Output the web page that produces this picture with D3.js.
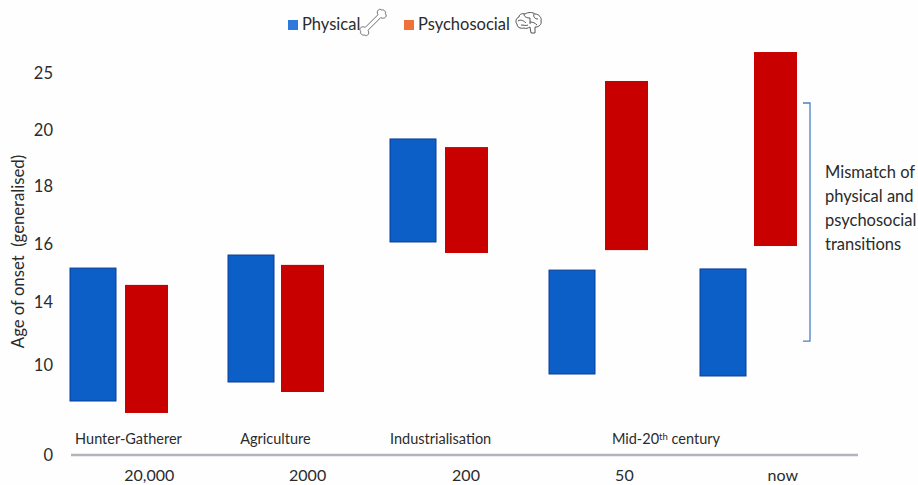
<!DOCTYPE html>
<html>
<head>
<meta charset="utf-8">
<script src="https://cdn.jsdelivr.net/npm/d3@7"></script>
<style>
  html, body { margin: 0; padding: 0; background: #fefefe; }
  text { font-family: Lato, sans-serif; fill: #2b2b2b; }
</style>
</head>
<body>
<div id="chart"></div>
<script>
const times = ['20,000', '2000', '200', '50', 'now'];
const physicalTop = [15.17, 15.62, 19.68, 15.10, 15.14];
const physicalBottom = [6.0, 8.11, 16.07, 9.0, 8.78];
const psychosocialTop = [14.59, 15.28, 19.39, 24.3, 26.84];
const psychosocialBottom = [4.67, 7.0, 15.69, 15.79, 15.93];
const yTicks = [0, 10, 14, 16, 18, 20, 25];
const eras = ['Hunter-Gatherer', 'Agriculture', 'Industrialisation', 'Mid-20th century'];
const eraSlots = [0.06, 0.99, 2.01, 3.45];
const mismatchRange = [22.37, 11.52];
const mismatchLines = ['Mismatch of', 'physical and', 'psychosocial', 'transitions'];

const width = 918;
const height = 485;

const svg = d3.select('#chart')
    .append('svg')
    .attr('width', width)
    .attr('height', height)
    .style('display', 'block');

// the axis in the picture is not linear, so the scale is piecewise
const y = d3.scaleLinear()
    .domain(yTicks)
    .range([455, 365, 302, 244, 186, 130, 73]);

const x = d3.scaleBand()
    .domain(times)
    .range([70, 862]);

// groups of bars are not centred on the labels below them
const groupX = d3.scaleLinear()
    .domain([0, 1, 2, 3, 4])
    .range([119, 277, 439, 598, 749]);
const physicalX = d3.scaleOrdinal()
    .domain([0, 1, 2, 3, 4])
    .range([70, 228, 390, 549, 700]);
const psychosocialX = d3.scaleOrdinal()
    .domain([0, 1, 2, 3, 4])
    .range([125, 281, 445, 605, 754]);

const rows = times.map((t, i) => ({
    i,
    physical: [physicalTop[i], physicalBottom[i]],
    psychosocial: [psychosocialTop[i], psychosocialBottom[i]]
}));

// y axis
const yAxis = svg.append('g')
    .attr('transform', 'translate(53, 0)')
    .call(d3.axisLeft(y).tickValues(yTicks).tickSize(0).tickPadding(0));
yAxis.select('.domain').remove();
yAxis.selectAll('text')
    .attr('text-anchor', 'end')
    .style('font-family', 'Lato, sans-serif')
    .style('font-size', '16.5px')
    .attr('fill', '#2b2b2b');

svg.append('text')
    .attr('transform', 'translate(24, 251.5) rotate(-90)')
    .attr('text-anchor', 'middle')
    .style('font-size', '16.7px')
    .style('white-space', 'pre')
    .text('Age of onset  (generalised)');

// x axis, the line stops a little before the last band ends
const xAxis = svg.append('g')
    .attr('transform', 'translate(0, 455)')
    .call(d3.axisBottom(x).tickSize(0).tickPadding(15));
xAxis.select('.domain').remove();
xAxis.append('line')
    .attr('x1', 71)
    .attr('x2', 858)
    .attr('stroke', '#b4b4bc')
    .attr('stroke-width', 2.5);
xAxis.selectAll('text')
    .style('font-family', 'Lato, sans-serif')
    .style('font-size', '16px')
    .attr('fill', '#2b2b2b');

// bars
svg.selectAll('.physical')
    .data(rows)
    .enter().append('rect')
    .attr('class', 'physical')
    .attr('x', d => physicalX(d.i))
    .attr('y', d => y(d.physical[0]))
    .attr('width', 46)
    .attr('height', d => y(d.physical[1]) - y(d.physical[0]))
    .attr('fill', '#0b5fc6')
    .attr('stroke', '#0d3c96')
    .attr('stroke-width', 1);

svg.selectAll('.psychosocial')
    .data(rows)
    .enter().append('rect')
    .attr('class', 'psychosocial')
    .attr('x', d => psychosocialX(d.i))
    .attr('y', d => y(d.psychosocial[0]))
    .attr('width', 43)
    .attr('height', d => y(d.psychosocial[1]) - y(d.psychosocial[0]))
    .attr('fill', '#c90000');

// era labels
const eraText = svg.selectAll('.era')
    .data(eras)
    .enter().append('text')
    .attr('class', 'era')
    .attr('x', (d, i) => groupX(eraSlots[i]))
    .attr('y', 444)
    .attr('text-anchor', 'middle')
    .style('font-size', '14.5px');
eraText.filter(d => !d.includes('20th')).text(d => d);
const mid = eraText.filter(d => d.includes('20th'));
mid.append('tspan').text('Mid-20');
mid.append('tspan').attr('dy', -4).style('font-size', '9.5px').text('th');
mid.append('tspan').attr('dy', 4).text(' century');

// mismatch bracket
const bx = 803;
svg.append('path')
    .attr('d', d3.line()([
        [bx, y(mismatchRange[0])],
        [bx + 7, y(mismatchRange[0])],
        [bx + 7, y(mismatchRange[1])],
        [bx, y(mismatchRange[1])]
    ]))
    .attr('fill', 'none')
    .attr('stroke', '#4a7fc4')
    .attr('stroke-width', 1.3);

svg.selectAll('.mismatch')
    .data(mismatchLines)
    .enter().append('text')
    .attr('class', 'mismatch')
    .attr('x', 825)
    .attr('y', (d, i) => 178 + i * 24)
    .style('font-size', '16.5px')
    .text(d => d);

// legend
const legend = svg.append('g').attr('class', 'legend');
legend.append('rect').attr('x', 288).attr('y', 20).attr('width', 10).attr('height', 10).attr('fill', '#2f78dc');
legend.append('text').attr('x', 302).attr('y', 30).style('font-size', '16.5px').text('Physical');
legend.append('rect').attr('x', 404).attr('y', 20).attr('width', 10).attr('height', 10).attr('fill', '#f0703a');
legend.append('text').attr('x', 418).attr('y', 30).style('font-size', '16.5px').text('Psychosocial');

// bone icon
legend.append('path')
    .attr('transform', 'translate(373, 22.5) rotate(-45)')
    .attr('d', 'M-9,-2 L9,-2 C10,-6 15,-6 15,-2.5 C17,-2 17,2 15,2.5 C15,6 10,6 9,2 L-9,2 C-10,6 -15,6 -15,2.5 C-17,2 -17,-2 -15,-2.5 C-15,-6 -10,-6 -9,-2 Z')
    .attr('fill', '#fff')
    .attr('stroke', '#666')
    .attr('stroke-width', 0.9);

// brain icon
const brain = legend.append('g')
    .attr('transform', 'translate(529, 22)')
    .attr('fill', 'none')
    .attr('stroke', '#555')
    .attr('stroke-width', 1);
brain.append('path').attr('d', 'M-5,6 C-9,7 -12,5 -12,2 C-14,0 -13,-4 -10,-5 C-10,-8 -6,-9 -4,-8 C-1,-10 4,-10 6,-8 C10,-8 13,-4 12,-1 C13,2 10,5 7,5 L6,5 L6,11 L2,11 L1,5 C-1,6 -3,7 -5,6 Z');
brain.append('path').attr('d', 'M-11,-1 C-8,-3 -5,-1 -3,1 M-5,-8 C-5,-5 -2,-4 1,-4 M1,-4 L1,2 M5,-8 C4,-5 6,-3 9,-3 M1,0 C4,0 6,1 8,3 M-8,3 C-5,3 -3,4 -1,3');
</script>
</body>
</html>
